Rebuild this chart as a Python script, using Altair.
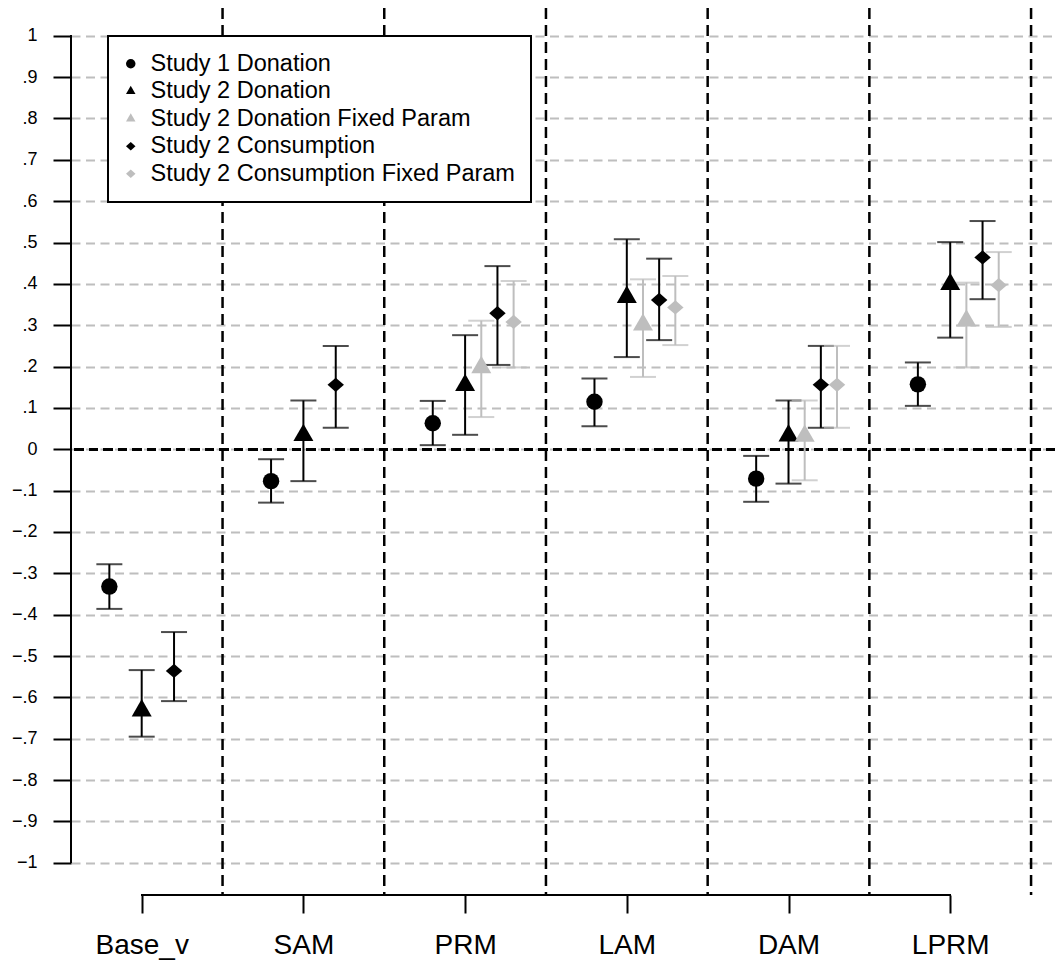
import altair as alt
import pandas as pd

# ---------------- data ----------------
CATEGORIES = ["Base_v", "SAM", "PRM", "LAM", "DAM", "LPRM"]
SERIES = [
    "Study 1 Donation",
    "Study 2 Donation",
    "Study 2 Donation Fixed Param",
    "Study 2 Consumption",
    "Study 2 Consumption Fixed Param",
]
DODGE = [-0.2, 0.0, 0.1, 0.2, 0.3]

S1_DON_EST = [-0.332, -0.077, 0.063, 0.115, -0.071, 0.157]
S1_DON_LO = [-0.386, -0.129, 0.010, 0.056, -0.127, 0.105]
S1_DON_HI = [-0.278, -0.024, 0.117, 0.171, -0.016, 0.210]

S2_DON_EST = [-0.632, 0.034, 0.155, 0.368, 0.033, 0.399]
S2_DON_LO = [-0.695, -0.077, 0.035, 0.223, -0.083, 0.270]
S2_DON_HI = [-0.534, 0.118, 0.276, 0.508, 0.118, 0.501]

S2_DONF_EST = [None, None, 0.198, 0.301, 0.032, 0.311]
S2_DONF_LO = [None, None, 0.078, 0.175, -0.075, 0.198]
S2_DONF_HI = [None, None, 0.311, 0.411, 0.118, 0.403]

S2_CON_EST = [-0.536, 0.156, 0.329, 0.361, 0.156, 0.464]
S2_CON_LO = [-0.609, 0.052, 0.204, 0.264, 0.052, 0.363]
S2_CON_HI = [-0.442, 0.250, 0.443, 0.461, 0.250, 0.552]

S2_CONF_EST = [None, None, 0.308, 0.343, 0.156, 0.397]
S2_CONF_LO = [None, None, 0.198, 0.252, 0.052, 0.296]
S2_CONF_HI = [None, None, 0.407, 0.419, 0.250, 0.477]

Y_TICK_LABELS = ["−1", "−.9", "−.8", "−.7", "−.6", "−.5", "−.4", "−.3", "−.2", "−.1",
                 "0", ".1", ".2", ".3", ".4", ".5", ".6", ".7", ".8", ".9", "1"]

# ---------------- styles ----------------
BLACK = "#000000"
GRAY = "#BEBEBE"
SERIES_COLORS = [BLACK, BLACK, GRAY, BLACK, GRAY]
TRI = "M0,-1.1547L1,0.5774L-1,0.5774Z"
DIA = "M-1,0L0,-0.87L1,0L0,0.87Z"
SERIES_SHAPES = ["circle", TRI, TRI, DIA, DIA]
FONT = "Liberation Sans"

ESTS = [S1_DON_EST, S2_DON_EST, S2_DONF_EST, S2_CON_EST, S2_CONF_EST]
LOS = [S1_DON_LO, S2_DON_LO, S2_DONF_LO, S2_CON_LO, S2_CONF_LO]
HIS = [S1_DON_HI, S2_DON_HI, S2_DONF_HI, S2_CON_HI, S2_CONF_HI]

rows = []
for s, name in enumerate(SERIES):
    for i, cat in enumerate(CATEGORIES):
        if ESTS[s][i] is None:
            continue
        rows.append(dict(category=cat, series=name, tone=SERIES_COLORS[s],
                         xpos=i + 1 + DODGE[s],
                         est=ESTS[s][i], lo=LOS[s][i], hi=HIS[s][i]))
df = pd.DataFrame(rows)

dividers = pd.DataFrame({"xd": [i + 1.5 for i in range(len(CATEGORIES))]})

# ---------------- scales / axes ----------------
XMIN, XMAX = 0.5628, 6.648
YMIN, YMAX = -1.0779, 1.0672
W, H = 984, 887

xscale = alt.Scale(domain=[XMIN, XMAX], nice=False, zero=False)
yscale = alt.Scale(domain=[YMIN, YMAX], nice=False, zero=False)

cat_js = "[" + ",".join("'%s'" % c for c in CATEGORIES) + "]"
ylab_js = "[" + ",".join("'%s'" % t for t in Y_TICK_LABELS) + "]"
YTICKS = [round(-1 + 0.1 * k, 1) for k in range(21)]

X_AXIS = alt.Axis(values=list(range(1, len(CATEGORIES) + 1)),
                  labelExpr=cat_js + "[round(datum.value) - 1]",
                  grid=False, domain=False, tickSize=18, tickWidth=2, tickColor=BLACK,
                  labelFontSize=28, labelFont=FONT, labelColor=BLACK, labelPadding=18,
                  labelAngle=0, labelOverlap=False, labelFlush=False, title=None)
Y_AXIS = alt.Axis(values=YTICKS,
                  labelExpr=ylab_js + "[round(datum.value * 10) + 10]",
                  grid=True, gridColor=GRAY, gridDash=[9, 5.5], gridWidth=2,
                  domain=False, tickSize=18, tickWidth=2, tickColor=BLACK,
                  labelFontSize=18, labelFont=FONT, labelColor=BLACK, labelPadding=16,
                  labelOverlap=False, labelFlush=False, title=None)

color_s = alt.Scale(domain=SERIES, range=SERIES_COLORS)
shape_s = alt.Scale(domain=SERIES, range=SERIES_SHAPES)

LEGEND = alt.Legend(title=None, orient="none", legendX=37, legendY=28,
                    symbolSize=90, symbolStrokeWidth=0, symbolOpacity=1,
                    symbolOffset=-5,
                    labelFontSize=23.5, labelFont=FONT, labelColor=BLACK, labelLimit=0,
                    rowPadding=2.5, padding=16, labelOffset=8,
                    strokeColor=BLACK, fillColor="white")

base = alt.Chart(df)
XE = alt.X("xpos:Q", scale=xscale, axis=X_AXIS)

err = base.mark_rule(strokeWidth=2).encode(
    x=XE,
    y=alt.Y("lo:Q", scale=yscale, axis=Y_AXIS),
    y2="hi:Q",
    color=alt.Color("tone:N", scale=None),
)
cap_lo = base.mark_tick(orient="horizontal", size=26, thickness=2).encode(
    x=XE,
    y=alt.Y("lo:Q", scale=yscale, axis=Y_AXIS),
    color=alt.Color("tone:N", scale=None),
)
cap_hi = base.mark_tick(orient="horizontal", size=26, thickness=2).encode(
    x=XE,
    y=alt.Y("hi:Q", scale=yscale, axis=Y_AXIS),
    color=alt.Color("tone:N", scale=None),
)


def point_layer(series_names, size):
    return base.transform_filter(
        alt.FieldOneOfPredicate(field="series", oneOf=series_names)
    ).mark_point(filled=True, opacity=1, fillOpacity=1, size=size, strokeWidth=0).encode(
        x=XE,
        y=alt.Y("est:Q", scale=yscale, axis=Y_AXIS),
        color=alt.Color("series:N", scale=color_s, legend=LEGEND),
        shape=alt.Shape("series:N", scale=shape_s, legend=LEGEND),
    )


pts_circ = point_layer([SERIES[0]], 270)
pts_tri = point_layer([SERIES[1], SERIES[2]], 400)
pts_dia = point_layer([SERIES[3], SERIES[4]], 270)

zero_line = alt.Chart(df).mark_rule(color=BLACK, strokeWidth=2.5, strokeDash=[9, 5.5]).encode(
    y=alt.datum(0)
)
div_rules = alt.Chart(dividers).mark_rule(color=BLACK, strokeWidth=2.5, strokeDash=[11, 6]).encode(
    x=alt.X("xd:Q", scale=xscale, axis=X_AXIS)
)
x_line = alt.Chart(df).mark_rule(color=BLACK, strokeWidth=2).encode(
    x=alt.datum(1), x2=alt.datum(len(CATEGORIES)), y=alt.datum(YMIN)
)
y_line = alt.Chart(df).mark_rule(color=BLACK, strokeWidth=2).encode(
    x=alt.datum(XMIN), y=alt.datum(-1), y2=alt.datum(1)
)

chart = alt.layer(zero_line, div_rules, x_line, y_line, err, cap_lo, cap_hi,
                  pts_circ, pts_tri, pts_dia).properties(
    width=W, height=H,
    autosize=alt.AutoSizeParams(type="none"),
    padding={"left": 63, "top": 0, "right": 0, "bottom": 65},
    background="white",
).configure_view(stroke=None).configure_legend(strokeWidth=2, symbolOpacity=1)

chart.save("out.html", embed_options={"renderer": "svg", "actions": False})
